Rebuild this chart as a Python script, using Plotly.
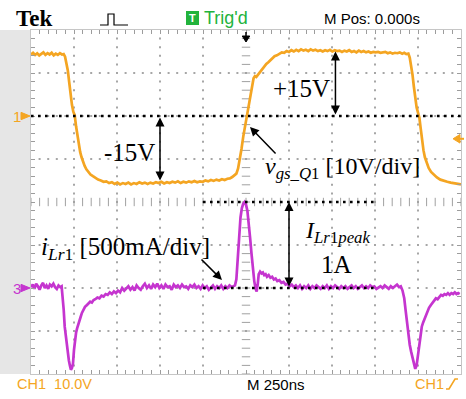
import numpy as np
import plotly.graph_objects as go

# ---- scope settings ----
TIME_PER_DIV_NS = 250
CH1_VOLTS_PER_DIV = 10.0
CH3_AMPS_PER_DIV = 0.5
CH1_OFFSET_DIV = 2.0
CH3_OFFSET_DIV = -2.0
TRIG_LEVEL_V = -5.3

# ---- CH1: gate-source voltage v_gs_Q1 (ns, V) ----
vgs_t_ns = [
    -1250, -1238, -1226, -1214, -1202, -1190, -1178, -1166, -1154, -1142, -1130, -1118, -1106, -1094,
    -1082, -1070, -1060, -1052, -1044, -1036, -1028, -1020, -1012, -1004, -996, -988, -980, -972,
    -964, -956, -948, -938, -928, -916, -904, -890, -876, -860, -844, -828, -812, -796, -780, -764,
    -748, -732, -716, -700, -684, -668, -652, -636, -620, -604, -588, -572, -556, -540, -524, -508,
    -492, -476, -460, -444, -428, -412, -396, -380, -364, -348, -332, -316, -300, -284, -268, -252,
    -236, -220, -204, -188, -172, -156, -140, -124, -108, -94, -80, -68, -56, -46, -36, -26, -16, -6,
    4, 12, 20, 28, 36, 44, 52, 60, 68, 76, 86, 96, 106, 118, 130, 142, 154, 166, 180, 194, 208, 222,
    236, 250, 264, 278, 292, 306, 320, 334, 348, 362, 376, 390, 404, 418, 432, 446, 460, 474, 488,
    502, 516, 530, 544, 558, 572, 586, 600, 614, 628, 642, 656, 670, 684, 698, 712, 726, 740, 754,
    768, 782, 796, 810, 824, 838, 852, 866, 880, 894, 908, 920, 932, 944, 952, 960, 968, 976, 984,
    992, 1000, 1008, 1016, 1024, 1032, 1040, 1050, 1062, 1076, 1092, 1110, 1130, 1150, 1170, 1190,
    1210, 1230, 1250,
]
vgs_volts = [
    14.3, 14.7, 14.2, 14.6, 14.1, 14.5, 14.8, 14.2, 14.6, 14.3, 14.7, 14.1, 14.5, 14.2,
    14.6, 14.3, 14.4, 13.8, 12.4, 10.6, 7.9, 4.8, 2.6, 1.0, 0.2, -2.4, -4.6, -6.8,
    -8.4, -9.6, -10.7, -11.6, -12.4, -13.0, -13.6, -14.0, -14.4, -14.8, -15.0, -15.3, -15.2, -15.6, -15.4, -15.8,
    -15.5, -15.9, -15.6, -15.8, -15.5, -15.9, -15.6, -15.8, -15.4, -15.7, -15.5, -15.8, -15.5, -15.7, -15.4, -15.6,
    -15.3, -15.7, -15.4, -15.6, -15.3, -15.5, -15.2, -15.6, -15.3, -15.5, -15.2, -15.4, -15.1, -15.4, -15.2, -15.3,
    -15.0, -15.2, -14.9, -15.1, -14.8, -15.0, -14.7, -14.9, -14.6, -14.5, -14.2, -13.9, -13.4, -12.2, -10.2, -7.6, -4.8, -2.4,
    -0.4, 1.2, 3.6, 5.8, 7.6, 8.8, 9.3, 9.1, 9.5, 9.9, 10.6, 11.0, 11.6, 12.1, 12.5, 13.0, 13.4, 13.9, 14.1, 14.4, 14.8, 14.7,
    15.1, 14.9, 15.3, 15.0, 15.4, 15.1, 15.5, 15.2, 15.4, 15.1, 15.5, 15.2, 15.4, 15.1, 15.3, 15.0, 15.3, 15.1, 15.4,
    15.0, 15.3, 15.1, 15.2, 14.9, 15.2, 15.0, 15.3, 14.9, 15.1, 14.8, 15.2, 14.9, 15.1, 14.8, 15.0, 14.7, 14.9, 14.8,
    14.9, 14.7, 14.8, 14.9, 14.6, 14.8, 14.5, 14.7, 14.6, 14.8, 14.5, 14.7, 14.4, 14.5, 13.6, 12.0, 9.6, 6.8, 4.0,
    2.0, 0.8, -0.4, -3.0, -5.8, -8.0, -9.6, -11.0, -12.1, -13.0, -13.7, -14.3, -14.8, -15.1, -15.3, -15.5,
    -15.6, -15.8, -15.9,
]

# ---- CH3: resonant inductor current i_Lr1 (ns, A) ----
ilr_t_ns = [
    -1250, -1240, -1230, -1220, -1210, -1200, -1190, -1180, -1170, -1160, -1150, -1140, -1130, -1120,
    -1110, -1100, -1090, -1080, -1072, -1066, -1060, -1054, -1048, -1042, -1036, -1030, -1024, -1018,
    -1012, -1006, -1000, -994, -988, -982, -976, -970, -962, -954, -946, -936, -926, -916, -906, -896,
    -886, -876, -864, -852, -840, -828, -816, -804, -792, -780, -768, -756, -744, -732, -720, -708,
    -696, -684, -672, -660, -648, -636, -624, -612, -600, -588, -576, -564, -552, -540, -528, -516,
    -504, -492, -480, -468, -456, -444, -432, -420, -408, -396, -384, -372, -360, -348, -336, -324,
    -312, -300, -288, -276, -264, -252, -240, -228, -216, -204, -192, -180, -168, -156, -144, -132,
    -120, -108, -96, -84, -72, -64, -56, -50, -44, -38, -32, -24, -16, -8, 0, 8, 16, 24, 32, 40, 48,
    56, 62, 68, 74, 82, 90, 98, 106, 114, 122, 132, 142, 152, 162, 172, 182, 194, 206, 218, 230, 242,
    254, 266, 278, 290, 302, 314, 326, 338, 350, 362, 374, 386, 398, 410, 422, 434, 446, 458, 470,
    482, 494, 506, 518, 530, 542, 554, 566, 578, 590, 602, 614, 626, 638, 650, 662, 674, 686, 698,
    710, 722, 734, 746, 758, 770, 782, 794, 806, 818, 830, 842, 854, 866, 878, 890, 900, 910, 920,
    928, 936, 944, 952, 960, 968, 976, 984, 992, 998, 1004, 1010, 1016, 1022, 1030, 1038, 1046,
    1054, 1064, 1074, 1084, 1094, 1104, 1114, 1124, 1134, 1144, 1154, 1164, 1174, 1184, 1194, 1204,
    1214, 1224, 1234, 1242, 1250,
]
ilr_amps = [
    0.01, 0.04, -0.01, 0.05, 0.02, -0.02, 0.03, 0.06, 0.00, 0.03, -0.01, 0.04, 0.02, 0.05,
    0.01, -0.01, 0.03, 0.01, 0.02, -0.08, -0.25, -0.45, -0.55, -0.66, -0.78, -0.84, -0.90, -0.95,
    -0.93, -0.88, -0.72, -0.60, -0.52, -0.47, -0.42, -0.39, -0.34, -0.29, -0.25, -0.22, -0.20, -0.18, -0.16, -0.17,
    -0.14, -0.13, -0.11, -0.12, -0.09, -0.10, -0.07, -0.08, -0.05, -0.07, -0.04, -0.06, -0.03, -0.05, 0.00, -0.03,
    -0.01, 0.02, -0.02, 0.01, -0.03, 0.03, 0.00, -0.02, 0.02, 0.05, 0.00, 0.03, -0.01, 0.04, 0.01, 0.05,
    0.00, 0.03, -0.01, 0.04, 0.01, 0.02, -0.02, 0.04, 0.01, 0.03, 0.00, 0.04, 0.01, 0.02, -0.01, 0.03,
    0.01, 0.04, 0.00, 0.02, -0.01, 0.03, 0.00, 0.02, -0.02, 0.01, 0.03, -0.01, 0.02, 0.00, 0.03, -0.01,
    0.02, 0.00, 0.03, 0.01, 0.02, 0.03, 0.10, 0.28, 0.50, 0.68, 0.82, 0.93, 0.98, 1.00, 0.97, 0.90, 0.76, 0.58, 0.40, 0.22, 0.08,
    -0.01, -0.04, 0.04, 0.16, 0.19, 0.17, 0.18, 0.15, 0.16, 0.13, 0.15, 0.12, 0.13, 0.10, 0.11, 0.08, 0.09, 0.06, 0.07, 0.04, 0.05,
    0.02, 0.04, 0.01, 0.03, 0.00, 0.03, -0.01, 0.02, 0.00, 0.03, -0.01, 0.02, 0.00, 0.03, 0.01, -0.01, 0.02, 0.00, 0.03,
    -0.01, 0.02, 0.00, 0.03, 0.01, -0.01, 0.02, 0.00, 0.02, -0.01, 0.01, 0.03, 0.00, 0.02, -0.01, 0.01, 0.03, 0.00,
    0.02, 0.00, 0.03, 0.01, 0.02, -0.01, 0.01, 0.02, 0.00, 0.03, 0.01, -0.01, 0.02, 0.00, 0.02, 0.04, 0.01, 0.02, -0.03,
    -0.12, -0.26, -0.42, -0.56, -0.66, -0.74, -0.82, -0.89, -0.94, -0.90, -0.80, -0.68, -0.58, -0.52, -0.45, -0.40, -0.36,
    -0.31, -0.27, -0.23, -0.20, -0.17, -0.15, -0.12, -0.13, -0.10, -0.08, -0.09, -0.07, -0.08, -0.06, -0.08, -0.06,
    -0.07, -0.05, -0.07, -0.06, -0.07,
]

# ---- annotation values ----
VGS_HIGH_LABEL_V = 15.0
VGS_LOW_LABEL_V = -15.0
ILR_PEAK_A = 1.0

# ---- page geometry (pixels) ----
W, H = 466, 399
GX0, GX1, GY0, GY1 = 31, 461, 30, 374   # graticule box
ORANGE = "#f4a522"
MAGENTA = "#c535cf"
GREEN = "#22b33c"
SERIF = "Liberation Serif"
SANS = "Liberation Sans"


def px(x):
    return x / W


def py(y):
    return 1 - y / H


def ch1_div(v):
    return CH1_OFFSET_DIV + np.asarray(v, dtype=float) / CH1_VOLTS_PER_DIV


def ch3_div(a):
    return CH3_OFFSET_DIV + np.asarray(a, dtype=float) / CH3_AMPS_PER_DIV


def pt(x_pix):
    # horizontal pixel -> time in ns on the graticule
    return (x_pix - (GX0 + GX1) / 2) / ((GX1 - GX0) / 10) * TIME_PER_DIV_NS


def pd(y_pix):
    # vertical pixel -> divisions on the graticule
    return ((GY0 + GY1) / 2 - y_pix) / ((GY1 - GY0) / 8)


half_span = 5 * TIME_PER_DIV_NS
minor_t = np.arange(-half_span, half_span + 0.1, TIME_PER_DIV_NS / 5)
minor_d = np.round(np.arange(-4, 4.001, 0.2), 3)

fig = go.Figure()

# dotted graticule
gx, gy = [], []
for k in range(-4, 5):
    if k == 0:
        continue
    for d in minor_d[1:-1]:
        gx.append(k * TIME_PER_DIV_NS)
        gy.append(d)
for k in (-3, -2, -1, 1, 2, 3):
    for t in minor_t[1:-1]:
        gx.append(t)
        gy.append(k)
fig.add_trace(go.Scatter(x=gx, y=gy, mode="markers",
                         marker=dict(symbol="square", size=2, color="#a6a6a6"),
                         hoverinfo="skip", showlegend=False))
# centre crosshair ticks
fig.add_trace(go.Scatter(x=[0] * len(minor_d), y=minor_d, mode="markers",
                         marker=dict(symbol="line-ew", size=6, line=dict(width=1, color="#a0a0a0")),
                         hoverinfo="skip", showlegend=False))
fig.add_trace(go.Scatter(x=minor_t, y=[0] * len(minor_t), mode="markers",
                         marker=dict(symbol="line-ns", size=6, line=dict(width=1, color="#a0a0a0")),
                         hoverinfo="skip", showlegend=False))

# waveforms
fig.add_trace(go.Scatter(x=ilr_t_ns, y=ch3_div(ilr_amps), mode="lines",
                         line=dict(color=MAGENTA, width=2.7),
                         hoverinfo="skip", showlegend=False))
fig.add_trace(go.Scatter(x=vgs_t_ns, y=ch1_div(vgs_volts), mode="lines",
                         line=dict(color=ORANGE, width=2.7),
                         hoverinfo="skip", showlegend=False))

shapes = []
# light grey strip to the left of the graticule
shapes.append(dict(type="rect", xref="paper", yref="paper", x0=0, x1=px(GX0),
                   y0=py(GY1), y1=py(GY0), fillcolor="#e6e6e6", line=dict(width=0), layer="below"))

dot_line = dict(color="black", width=2.6, dash="2.6px,4.4px")
# CH1 ground reference
shapes.append(dict(type="line", xref="x", yref="y", x0=-half_span, x1=half_span,
                   y0=float(ch1_div(0)), y1=float(ch1_div(0)), line=dot_line))
# CH3 ground and peak levels
for lvl in (0.0, ILR_PEAK_A):
    shapes.append(dict(type="line", xref="x", yref="y", x0=-250, x1=750,
                       y0=float(ch3_div(lvl)), y1=float(ch3_div(lvl)), line=dot_line))

# channel ground markers on the left
for ch, col, lvl in (("1", ORANGE, float(ch1_div(0))), ("3", MAGENTA, float(ch3_div(0)))):
    shapes.append(dict(type="path", xref="paper", yref="y",
                       path=f"M {px(21)},{lvl + 0.085} L {px(30)},{lvl} L {px(21)},{lvl - 0.085} Z",
                       fillcolor=col, line=dict(color=col, width=1)))
# trigger level marker on the right
tl = float(ch1_div(TRIG_LEVEL_V))
shapes.append(dict(type="path", xref="paper", yref="y",
                   path=f"M {px(453)},{tl} L {px(460)},{tl + 0.1} L {px(460)},{tl - 0.1} Z",
                   fillcolor=ORANGE, line=dict(color=ORANGE, width=1)))
shapes.append(dict(type="line", xref="paper", yref="y", x0=px(458), x1=px(464), y0=tl, y1=tl,
                   line=dict(color=ORANGE, width=2)))
# trigger position marker at the top
shapes.append(dict(type="line", xref="x", yref="paper", x0=0, x1=0, y0=py(32), y1=py(37),
                   line=dict(color="black", width=1.5)))
shapes.append(dict(type="path", xref="x", yref="paper",
                   path=f"M -22,{py(36)} L 22,{py(36)} L 0,{py(42)} Z",
                   fillcolor="black", line=dict(color="black", width=1)))
# acquisition icon in the header
shapes.append(dict(type="path", xref="paper", yref="paper",
                   path=(f"M {px(100)},{py(25)} L {px(108)},{py(25)} L {px(108)},{py(14)} "
                         f"L {px(114)},{py(14)} L {px(114)},{py(25)} L {px(128)},{py(25)}"),
                   line=dict(color="black", width=1.2)))
# green trigger badge
shapes.append(dict(type="rect", xref="paper", yref="paper", x0=px(186), x1=px(199),
                   y0=py(25), y1=py(11), fillcolor=GREEN, line=dict(width=0)))
# CH1 slope symbol
shapes.append(dict(type="path", xref="paper", yref="paper",
                   path=(f"M {px(446)},{py(389)} L {px(449)},{py(389)} "
                         f"L {px(455)},{py(379)} L {px(458)},{py(379)}"),
                   line=dict(color=ORANGE, width=1.6)))

ann = []


def text(x, y, s, size, color="black", family=SERIF, xanchor="center", xref="x", yref="y", **kw):
    ann.append(dict(x=x, y=y, xref=xref, yref=yref, text=s, showarrow=False,
                    xanchor=xanchor, yanchor="middle",
                    font=dict(family=family, size=size, color=color), **kw))


def arrow(x, y, ax, ay, both=False):
    ann.append(dict(x=x, y=y, ax=ax, ay=ay, xref="x", yref="y", axref="x", ayref="y",
                    text="", showarrow=True, arrowhead=2, arrowsize=1.2, arrowwidth=1.5,
                    arrowcolor="black", arrowside="end+start" if both else "end",
                    standoff=0, startstandoff=0))


# level arrows
arrow(-500, float(ch1_div(VGS_LOW_LABEL_V)), -500, float(ch1_div(0)), both=True)
arrow(520, float(ch1_div(VGS_HIGH_LABEL_V)), 520, float(ch1_div(0)), both=True)
arrow(250, float(ch3_div(ILR_PEAK_A)), 250, float(ch3_div(0)), both=True)
# pointer arrows
arrow(pt(250), pd(127), pt(277), pd(155))
arrow(pt(222), pd(280), pt(200), pd(258))

text(pt(129), pd(152), "-15V", 25)
text(pt(301), pd(88), "+15V", 25)
text(pt(263), pd(168), "<i>v</i><sub><i>gs_Q</i>1</sub> [10V/div]", 24, xanchor="left")
text(pt(39), pd(248), "<i>i</i><sub><i>Lr</i>1</sub> [500mA/div]", 25, xanchor="left")
text(pt(303), pd(232), "<i>I</i><sub><i>Lr</i>1<i>peak</i></sub>", 24, xanchor="left")
text(pt(336), pd(264), "1A", 25)

# channel numbers
text(px(17), float(ch1_div(0)), "1", 15, color=ORANGE, family=SANS, xref="paper")
text(px(17), float(ch3_div(0)), "3", 15, color=MAGENTA, family=SANS, xref="paper")

# header and footer readouts
text(px(14), py(18), "<b>Tek</b>", 23, family=SERIF, xanchor="left", xref="paper", yref="paper")
text(px(192.5), py(18), "<b>T</b>", 11, color="white", family=SANS, xref="paper", yref="paper")
text(px(202), py(18), "Trig'd", 18, color=GREEN, family=SANS, xanchor="left", xref="paper", yref="paper")
text(px(322), py(18), "M Pos: 0.000s", 15, family=SANS, xanchor="left", xref="paper", yref="paper")
text(px(15), py(384), "CH1  10.0V", 14.5, color=ORANGE, family=SANS, xanchor="left", xref="paper", yref="paper")
text(px(245), py(384), "M 250ns", 15, family=SANS, xanchor="left", xref="paper", yref="paper")
text(px(413), py(384), "CH1", 14.5, color=ORANGE, family=SANS, xanchor="left", xref="paper", yref="paper")

axis_common = dict(showgrid=False, zeroline=False, showticklabels=False, ticks="inside",
                   ticklen=4, tickwidth=1, tickcolor="#9c9c9c", showline=True,
                   linecolor="#c6c6c6", linewidth=1, mirror="ticks", fixedrange=True)

fig.update_layout(
    width=W, height=H,
    margin=dict(l=0, r=0, t=0, b=0),
    paper_bgcolor="white", plot_bgcolor="white",
    xaxis=dict(domain=[px(GX0), px(GX1)], range=[-half_span, half_span],
               tickmode="linear", tick0=-half_span, dtick=TIME_PER_DIV_NS / 5, **axis_common),
    yaxis=dict(domain=[py(GY1), py(GY0)], range=[-4, 4],
               tickmode="linear", tick0=-4, dtick=0.2, **axis_common),
    shapes=shapes,
    annotations=ann,
    showlegend=False,
)

fig.write_html("out.html")
